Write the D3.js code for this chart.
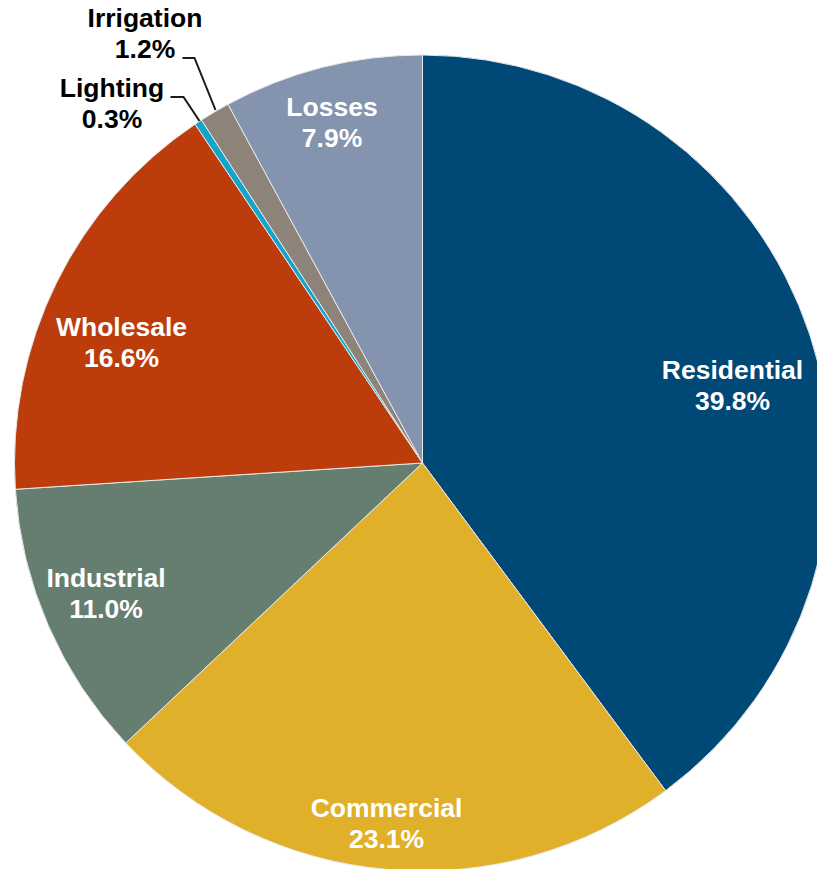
<!DOCTYPE html>
<html>
<head>
<meta charset="utf-8">
<script src="https://cdn.jsdelivr.net/npm/d3@7"></script>
<style>
  html, body { margin: 0; padding: 0; background: #fff; overflow: hidden; }
  svg { display: block; }
  text { font-family: "Liberation Sans", Arial, sans-serif; font-weight: bold; }
</style>
</head>
<body>
<svg id="chart" width="817" height="869"></svg>
<script>
// Share of electricity by customer class (percent)
const categories = ["Residential", "Commercial", "Industrial", "Wholesale", "Lighting", "Irrigation", "Losses"];
const values = [39.8, 23.1, 11.0, 16.6, 0.3, 1.2, 7.9];
const colors = ["#004876", "#E0B02A", "#667E70", "#BC3D0B", "#12A5CB", "#8E8378", "#8494AE"];

// Label placement: first-line baseline offset from the pie centre;
// the two thin slices get outside labels with leader lines
const labelLayout = {
  Residential: { dx: 310,    dy: -84,  fill: "#fff" },
  Commercial:  { dx: -36,    dy: 354,  fill: "#fff" },
  Industrial:  { dx: -316.5, dy: 124,  fill: "#fff" },
  Wholesale:   { dx: -301,   dy: -127, fill: "#fff" },
  Lighting:    { dx: -310.5, dy: -366, fill: "#000", leader: [[-252, -366], [-239, -366], [-223, -342]] },
  Irrigation:  { dx: -277.5, dy: -436, fill: "#000", leader: [[-240, -405], [-228, -405], [-207, -353]] },
  Losses:      { dx: -90.5,  dy: -347, fill: "#fff" }
};

const svg = d3.select("#chart");
const cx = 422.5, cy = 463, radius = 408;

const data = categories.map((c, i) => ({ name: c, value: values[i], color: colors[i] }));

const pie = d3.pie().value(d => d.value).sort(null);
const arc = d3.arc().innerRadius(0).outerRadius(radius);

const g = svg.append("g").attr("transform", `translate(${cx},${cy})`);

g.selectAll("path.slice")
  .data(pie(data))
  .join("path")
  .attr("class", "slice")
  .attr("d", arc)
  .attr("fill", d => d.data.color)
  .attr("stroke", "#e8e8e8")
  .attr("stroke-width", 1);

// Leader lines for the thin slices
const line = d3.line();
data.forEach(d => {
  const L = labelLayout[d.name];
  if (L.leader) {
    g.append("path")
      .attr("d", line(L.leader))
      .attr("fill", "none")
      .attr("stroke", "#1a1a1a")
      .attr("stroke-width", 2);
  }
});

// Category name and percentage
const fmt = d3.format(".1f");
data.forEach(d => {
  const L = labelLayout[d.name];
  const t = g.append("text")
    .attr("text-anchor", "middle")
    .attr("fill", L.fill)
    .style("font-size", "26.5px");
  t.append("tspan").attr("x", L.dx).attr("y", L.dy).text(d.name);
  t.append("tspan").attr("x", L.dx).attr("y", L.dy + 31).text(fmt(d.value) + "%");
});
</script>
</body>
</html>
